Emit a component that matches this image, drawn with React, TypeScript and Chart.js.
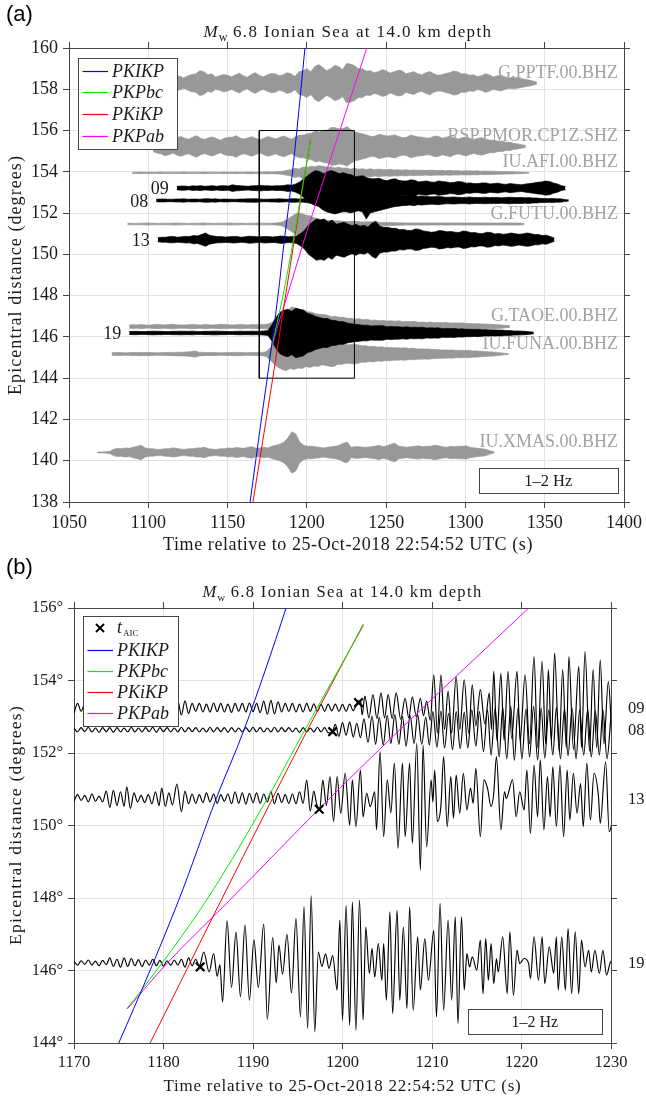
import React, { useEffect, useRef } from 'react';
import { Chart, registerables } from 'chart.js';

Chart.register(...registerables);

const SERIF = '"Liberation Serif", "Times New Roman", serif';
const SANS = '"Liberation Sans", Arial, sans-serif';
const AXIS = '#454545';
const GRID = '#e2e2e2';
const TXT = '#1a1a1a';
const GRAY = '#989898';
const LABEL_GRAY = '#a2a2a2';

const TITLE_REST = ' 6.8 Ionian Sea at 14.0 km depth';
const X_TITLE = 'Time relative to 25-Oct-2018 22:54:52 UTC (s)';
const Y_TITLE = 'Epicentral distance (degrees)';
const BAND_LABEL = '1\u20132 Hz';

// ---------------- Panel (a) axes ----------------
const A_XMIN = 1050, A_XMAX = 1400, A_XSTEP = 50;
const A_YMIN = 138, A_YMAX = 160, A_YSTEP = 2;
// ---------------- Panel (b) axes ----------------
const B_XMIN = 1170, B_XMAX = 1230, B_XSTEP = 10;
const B_YMIN = 144, B_YMAX = 156, B_YSTEP = 2;

// ---------------- Panel (a): trace envelopes (half-width, 0.01 deg), one value every 2.5 s ----------------
const ENV_STEP = 2.5;
const ENV_PPTF = [20,30,28,22,30,38,32,25,35,42,45,60,55,40,45,30,35,42,38,30,40,48,35,28,42,50,38,30,40,46,45,35,40,50,45,32,55,60,70,55,80,90,75,60,70,85,80,65,95,92,85,70,70,58,60,50,55,65,60,48,55,62,60,45,50,55,45,40,50,56,45,38,40,46,50,58,55,45,45,38,40,32,35,45,40,30,35,38,30,25,28,25,22,18,15,10,5];
const ENV_PMOR = [25,32,35,45,40,32,42,48,40,35,45,52,40,34,42,46,38,30,40,44,45,52,40,36,42,47,38,32,40,48,42,36,45,50,42,35,48,55,55,62,65,75,70,78,80,92,90,85,88,95,80,70,65,60,55,48,50,58,55,50,52,56,48,42,45,55,50,46,45,40,42,50,48,40,45,50,40,36,42,46,38,34,40,42,35,30,30,25,25,20,20,15,12,8,5];
const ENV_AFI = [3,3,4,3,3,3,3,4,3,3,3,3,3,4,3,3,3,3,4,3,3,3,3,4,3,3,4,3,3,4,4,3,4,4,5,4,5,6,8,12,15,22,18,28,25,32,30,35,32,28,30,24,28,22,24,18,22,18,20,16,20,15,18,16,15,17,14,15,13,15,12,14,12,13,11,13,12,11,12,10,12,10,11,9,10,10,9,10,8,9,8,8,7,7,6,6,5,4,4,3,2];
const ENV_09 = [8,10,10,8,11,10,12,9,10,12,9,11,12,10,16,13,12,10,9,11,12,14,11,12,10,12,11,13,16,14,20,30,45,60,75,85,80,70,80,85,78,70,75,68,65,55,58,60,50,45,45,48,40,36,42,45,38,35,35,40,38,30,32,35,30,28,35,32,30,26,28,32,30,24,25,22,22,25,25,20,22,24,20,18,22,20,18,16,20,22,25,28,30,34,32,25,20,12,8];
const ENV_08 = [6,7,7,6,6,7,7,8,6,7,7,6,8,9,7,8,6,7,7,6,6,7,7,8,8,9,7,6,6,7,7,8,7,6,8,9,7,8,10,14,20,30,45,55,60,65,60,55,55,60,55,50,55,90,60,55,50,45,40,35,30,28,25,24,22,25,20,22,20,18,18,20,18,16,16,17,16,15,15,17,15,14,15,16,14,15,15,13,14,16,15,14,15,13,14,12,12,10,10,9,10,8,8,5,3];
const ENV_FUTU = [4,4,3,4,4,5,4,4,3,4,4,4,5,4,4,3,4,4,4,5,4,4,3,4,4,4,5,4,4,4,3,4,4,5,4,4,4,5,6,10,20,32,45,55,50,42,40,30,25,22,18,17,15,16,14,12,12,13,12,10,10,11,10,9,8,8,7,7,6,6,5,5,5,5,5,5,5,5,5,5,5,5,5,5,5,5,5,5,5,5,5,5,5,5,5,5,5,5,5,5,2];
const ENV_13 = [10,12,12,15,15,12,14,16,15,20,18,25,32,22,18,15,15,13,14,16,15,12,14,17,16,14,14,16,15,13,15,18,16,14,15,18,30,45,70,85,100,95,100,85,95,75,80,85,75,68,75,65,70,62,80,90,65,60,60,55,55,48,50,45,45,52,50,42,40,36,38,45,42,38,40,36,35,42,40,34,35,30,30,36,35,28,30,26,28,32,30,26,28,32,30,25,25,20,22,15,8];
const ENV_TAOE = [8,9,8,10,8,7,9,10,9,8,10,11,9,8,8,9,10,9,8,10,9,8,9,11,10,9,8,9,10,9,8,10,9,9,10,12,20,35,50,70,80,95,90,80,80,72,70,62,60,58,55,48,50,45,45,40,40,36,38,33,35,30,32,28,30,27,28,26,28,24,25,24,25,21,22,20,22,19,20,19,20,17,18,17,18,15,15,14,14,12,12,11,10,9,8,6,4];
const ENV_19 = [7,8,8,7,7,8,9,8,8,7,7,8,8,9,8,8,9,7,7,8,8,9,9,8,8,7,7,8,9,8,8,9,8,9,10,12,40,75,100,110,115,105,120,115,110,95,90,80,75,70,70,62,60,55,55,48,45,42,40,38,38,34,35,35,35,30,32,30,30,28,30,27,28,27,28,24,25,24,25,21,22,21,22,19,20,18,18,17,18,16,16,15,15,14,14,12,12,10,10,9,8,6,4];
const ENV_FUNA = [6,7,7,6,6,7,7,8,7,8,7,6,6,7,7,8,8,9,9,10,12,15,9,8,7,8,7,6,6,7,7,8,8,7,6,7,7,8,8,12,30,50,65,75,80,70,75,68,70,60,65,58,60,52,55,60,60,50,50,45,45,48,45,40,40,36,38,34,35,32,32,30,30,29,30,27,28,25,25,24,25,22,22,20,20,19,20,17,18,17,18,15,15,13,12,11,10,8,6,4,2];
const ENV_XMAS = [2,2,3,5,15,20,18,22,20,25,30,35,22,18,18,15,15,18,18,22,20,16,15,18,18,22,22,25,18,16,15,18,18,22,20,24,22,20,25,28,20,22,25,22,30,35,40,50,70,100,90,50,35,30,30,28,25,22,25,28,30,35,45,50,25,28,28,25,25,28,30,35,28,32,40,45,30,28,25,28,30,32,28,30,30,35,32,28,25,30,28,30,30,32,25,22,20,18,15,8,3];

const A_TRACES = [
  { name: 'G.PPTF.00.BHZ', dist: 158.3, t0: 1105, env: ENV_PPTF, black: false },
  { name: 'RSP.PMOR.CP1Z.SHZ', dist: 155.23, t0: 1103, env: ENV_PMOR, black: false },
  { name: 'IU.AFI.00.BHZ', dist: 153.95, t0: 1090, env: ENV_AFI, black: false },
  { name: 'G.FUTU.00.BHZ', dist: 151.47, t0: 1087, env: ENV_FUTU, black: false },
  { name: 'G.TAOE.00.BHZ', dist: 146.5, t0: 1088, env: ENV_TAOE, black: false },
  { name: 'IU.FUNA.00.BHZ', dist: 145.17, t0: 1077, env: ENV_FUNA, black: false },
  { name: 'IU.XMAS.00.BHZ', dist: 140.4, t0: 1068, env: ENV_XMAS, black: false },
  { name: '09', dist: 153.21, t0: 1118, env: ENV_09, black: true },
  { name: '08', dist: 152.61, t0: 1105, env: ENV_08, black: true },
  { name: '13', dist: 150.71, t0: 1106, env: ENV_13, black: true },
  { name: '19', dist: 146.19, t0: 1088, env: ENV_19, black: true },
];

// ---------------- Travel-time curves (time s, distance deg) ----------------
const PKIKP_T = [1164.2, 1171.3, 1175.0, 1181.7, 1185.9, 1189.0, 1193.7, 1198.8];
const PKIKP_D = [138, 142, 144, 147.94, 150.75, 152.64, 156, 160];
const PKPBC_T = [1175.9, 1177.4, 1184.8, 1191.5, 1195.8, 1202.3];
const PKPBC_D = [144.95, 145.41, 147.94, 150.7, 152.64, 155.5];
const PKIKP2_T = [1166.0, 1178.5, 1185.9, 1191.9, 1196.1, 1202.3];
const PKIKP2_D = [138, 144, 147.67, 150.61, 152.64, 155.54];
const PKPAB_T = [1176.0, 1180.4, 1187.4, 1197.4, 1206.4, 1220.8, 1237.8];
const PKPAB_D = [144.95, 146.2, 147.94, 150.46, 152.64, 156, 160];
const PHASES = [
  { name: 'PKIKP', t: PKIKP_T, d: PKIKP_D, color: '#0000ff' },
  { name: 'PKPbc', t: PKPBC_T, d: PKPBC_D, color: '#00ee00' },
  { name: 'PKiKP', t: PKIKP2_T, d: PKIKP2_D, color: '#ff0000' },
  { name: 'PKPab', t: PKPAB_T, d: PKPAB_D, color: '#ff00ff' },
];

// zoom window of panel (b) drawn in panel (a)
const BOX_T = [1170, 1230, 1230, 1170, 1170];
const BOX_D = [144, 144, 156, 156, 144];

// ---------------- Panel (b): waveforms [time s, amplitude 0.01 deg] ----------------
const B09: number[][] = [[1170,-15],[1170.4,12],[1170.8,-10],[1171.2,12],[1171.6,-12],[1172,10],[1172.4,-14],[1172.8,12],[1173.2,-10],[1173.6,14],[1174,-12],[1174.4,10],[1174.8,-12],[1175.2,14],[1175.6,-13],[1176,11],[1176.4,-12],[1176.8,13],[1177.2,-10],[1177.6,12],[1178,-14],[1178.4,12],[1178.8,-11],[1179.2,13],[1179.6,-12],[1180,10],[1180.4,-12],[1180.8,14],[1181.2,-15],[1181.6,18],[1182,-20],[1182.4,19],[1182.8,-16],[1183.2,12],[1183.6,-10],[1184,12],[1184.4,-12],[1184.8,10],[1185.2,-12],[1185.6,13],[1186,-11],[1186.4,12],[1186.8,-12],[1187.2,10],[1187.6,-13],[1188,12],[1188.4,-10],[1188.8,12],[1189.2,-12],[1189.6,13],[1190,-11],[1190.4,12],[1190.8,-14],[1191.2,18],[1191.6,-18],[1192,20],[1192.4,-17],[1192.8,16],[1193.2,-12],[1193.6,12],[1194,-10],[1194.4,12],[1194.8,-12],[1195.2,10],[1195.6,-12],[1196,12],[1196.4,-10],[1196.8,11],[1197.2,-10],[1197.6,9],[1198,-10],[1198.4,10],[1198.8,-9],[1199.2,10],[1199.6,-10],[1200,9],[1200.4,-10],[1200.8,10],[1201.2,-8],[1201.6,12],[1202.0,20],[1202.2,-20],[1202.5,32],[1202.95,-28],[1203.4,36],[1203.85,-30],[1204.3,41],[1204.7,-28],[1205.1,36],[1205.55,-30],[1206.0,41],[1206.5,-32],[1207.0,26],[1207.4,-28],[1207.8,30],[1208.25,-25],[1208.7,26],[1209.05,-22],[1209.4,18],[1209.8,-35],[1210.2,91],[1210.6,-70],[1211.0,91],[1211.4,-60],[1211.8,45],[1212.2,-70],[1212.7,86],[1213.1,-60],[1213.6,77],[1214.1,-70],[1214.5,63],[1214.9,-50],[1215.4,50],[1215.9,-45],[1216.4,40],[1216.65,-60],[1216.9,100],[1217.25,-90],[1217.7,95],[1218.05,-90],[1218.5,100],[1218.9,-85],[1219.5,100],[1219.85,-90],[1220.4,91],[1220.9,-100],[1221.4,141],[1221.8,-110],[1222.3,128],[1222.7,-100],[1223.0,105],[1223.35,-90],[1223.7,151],[1224.2,-120],[1224.6,105],[1225.0,-110],[1225.3,141],[1225.8,-115],[1226.4,114],[1226.7,-110],[1227.1,155],[1227.6,-120],[1228.0,105],[1228.4,-110],[1228.8,132],[1229.2,-100],[1229.7,72],[1230.1,-80]];

const B08: number[][] = [[1170,5],[1170.4,-6],[1170.8,6],[1171.2,-5],[1171.6,7],[1172,-6],[1172.4,5],[1172.8,-7],[1173.2,6],[1173.6,-5],[1174,6],[1174.4,-7],[1174.8,6],[1175.2,-6],[1175.6,5],[1176,-6],[1176.4,7],[1176.8,-6],[1177.2,5],[1177.6,-6],[1178,6],[1178.4,-5],[1178.8,7],[1179.2,-7],[1179.6,6],[1180,-5],[1180.4,6],[1180.8,-6],[1181.2,5],[1181.6,-6],[1182,7],[1182.4,-6],[1182.8,6],[1183.2,-5],[1183.6,6],[1184,-6],[1184.4,5],[1184.8,-6],[1185.2,7],[1185.6,-6],[1186,6],[1186.4,-5],[1186.8,6],[1187.2,-7],[1187.6,6],[1188,-6],[1188.4,5],[1188.8,-6],[1189.2,6],[1189.6,-5],[1190,7],[1190.4,-6],[1190.8,6],[1191.2,-6],[1191.6,5],[1192,-6],[1192.4,7],[1192.8,-6],[1193.2,6],[1193.6,-5],[1194,6],[1194.4,-6],[1194.8,5],[1195.2,-7],[1195.6,6],[1196,-6],[1196.4,5],[1196.8,-6],[1197.2,7],[1197.6,-6],[1198,6],[1198.4,-8],[1198.8,-9],[1199.2,15],[1199.6,-18],[1200,20],[1200.4,-15],[1200.8,22],[1201.2,-20],[1201.6,18],[1202,-22],[1202.4,30],[1202.85,-35],[1203.3,38],[1203.7,-40],[1204.1,35],[1204.55,-42],[1205,40],[1205.4,-38],[1205.85,42],[1206.3,-40],[1206.7,38],[1207.1,-45],[1207.55,40],[1208,-38],[1208.4,42],[1208.85,-40],[1209.3,35],[1209.7,-42],[1210.1,50],[1210.55,-48],[1211,52],[1211.4,-50],[1211.85,45],[1212.3,-55],[1212.7,50],[1213.15,-52],[1213.6,48],[1214,-50],[1214.45,55],[1214.9,-45],[1215.3,50],[1215.75,-60],[1216.2,55],[1216.6,-70],[1217.05,60],[1217.5,-75],[1217.9,62],[1218.35,-80],[1218.8,65],[1219.2,-84],[1219.6,60],[1220.05,-80],[1220.5,58],[1220.9,-75],[1221.35,65],[1221.8,-84],[1222.2,60],[1222.6,-78],[1223.05,55],[1223.5,-70],[1223.9,62],[1224.35,-80],[1224.8,58],[1225.2,-72],[1225.65,60],[1226.1,-80],[1226.5,55],[1226.95,-70],[1227.4,58],[1227.8,-75],[1228.25,52],[1228.7,-70],[1229.1,55],[1229.55,-80],[1230,40]];

const B13: number[][] = [[1170,-8],[1170.4,10],[1170.8,-6],[1171.2,8],[1171.6,-10],[1172,12],[1172.4,-8],[1172.8,6],[1173.2,-10],[1173.6,20],[1174,-25],[1174.4,22],[1174.8,-20],[1175.2,18],[1175.6,-22],[1175.9,32],[1176.3,-28],[1176.7,15],[1177.1,-10],[1177.5,8],[1177.9,-12],[1178.3,10],[1178.7,-15],[1179.1,18],[1179.5,-20],[1179.8,28],[1180.2,-22],[1180.6,15],[1181,-18],[1181.5,39],[1182,-37],[1182.4,20],[1182.8,-15],[1183.2,12],[1183.6,-14],[1184,10],[1184.4,-12],[1184.8,15],[1185.2,-10],[1185.6,12],[1186,-14],[1186.4,10],[1186.8,-8],[1187.2,12],[1187.6,-15],[1188,18],[1188.4,-14],[1188.8,15],[1189.2,-16],[1189.6,14],[1190,-12],[1190.4,15],[1190.8,-14],[1191.2,12],[1191.6,-10],[1192,18],[1192.4,-15],[1192.8,14],[1193.2,-12],[1193.6,10],[1194,-14],[1194.4,12],[1194.8,-15],[1195.2,18],[1195.6,-14],[1196,50],[1196.4,-35],[1196.8,20],[1197.1,-15],[1197.45,-30],[1197.8,50],[1198.2,-20],[1198.6,60],[1199.0,-64],[1199.4,60],[1199.8,-41],[1200.3,69],[1200.8,-74],[1201.1,50],[1201.5,-78],[1202.0,78],[1202.3,-51],[1202.7,14],[1203.1,-23],[1203.6,18],[1203.8,-87],[1204.2,129],[1204.6,-106],[1205.0,51],[1205.4,-40],[1205.8,97],[1206.2,-138],[1206.7,97],[1207.0,-106],[1207.5,97],[1207.8,-124],[1208.3,152],[1208.7,-198],[1209.0,147],[1209.4,-134],[1209.9,51],[1210.1,-10],[1210.3,78],[1210.6,-64],[1211.0,-20],[1211.3,115],[1211.7,-78],[1212.1,60],[1212.4,-55],[1212.7,64],[1213.1,-41],[1213.5,69],[1213.9,-32],[1214.3,28],[1214.6,-14],[1214.9,83],[1215.4,-106],[1215.8,51],[1216.2,28],[1216.6,-23],[1216.9,14],[1217.2,115],[1217.7,-87],[1218.1,18],[1218.3,0],[1219.0,51],[1219.4,-51],[1219.8,18],[1220.3,-32],[1220.6,78],[1221.0,-97],[1221.4,92],[1221.8,-51],[1222.1,106],[1222.5,-87],[1222.9,60],[1223.2,-51],[1223.5,87],[1223.9,-78],[1224.3,92],[1224.7,-106],[1225.1,78],[1225.4,-60],[1225.8,69],[1226.2,-41],[1226.6,41],[1226.9,-78],[1227.3,97],[1227.7,-60],[1228.1,69],[1228.6,5],[1228.8,-69],[1229.4,101],[1229.8,-92],[1230.2,-60]];

const B19: number[][] = [[1170,4],[1170.4,-6],[1170.8,6],[1171.2,-4],[1171.6,8],[1172,-6],[1172.4,5],[1172.8,-8],[1173.2,7],[1173.6,-5],[1174,14],[1174.4,-10],[1174.8,10],[1175.2,-12],[1175.6,13],[1176,-10],[1176.4,12],[1176.8,-8],[1177.2,9],[1177.6,-10],[1178,8],[1178.4,-6],[1178.8,10],[1179.2,-8],[1179.6,7],[1180,-9],[1180.4,6],[1180.8,-7],[1181.2,8],[1181.6,-6],[1182,10],[1182.4,-12],[1182.8,14],[1183.2,-8],[1183.6,10],[1184,-10],[1184.5,30],[1185.1,-25],[1185.6,26],[1186.0,-37],[1186.3,-5],[1186.6,-108],[1187.1,116],[1187.6,-68],[1188.1,85],[1188.6,-94],[1189.1,104],[1189.6,-103],[1190.1,64],[1190.6,-68],[1191.2,107],[1191.6,-156],[1192.2,70],[1192.6,-55],[1192.9,49],[1193.3,-31],[1193.8,79],[1194.3,-83],[1194.8,123],[1195.3,-149],[1195.7,155],[1196.1,-181],[1196.5,185],[1196.9,-190],[1197.3,30],[1197.7,-10],[1198.1,25],[1198.5,-15],[1198.9,20],[1199.4,-75],[1199.7,118],[1200.0,-158],[1200.4,159],[1200.8,-172],[1201.1,168],[1201.5,-186],[1201.9,173],[1202.3,-158],[1202.6,99],[1203.0,-29],[1203.3,40],[1203.6,-39],[1204.0,53],[1204.4,-48],[1204.6,53],[1204.9,-103],[1205.3,141],[1205.6,-140],[1206.1,145],[1206.4,-103],[1206.8,99],[1207.2,-126],[1207.5,155],[1207.9,-131],[1208.4,72],[1208.7,-75],[1209.2,67],[1209.6,-48],[1210.2,90],[1210.5,-149],[1210.9,164],[1211.3,-131],[1211.8,118],[1212.2,-103],[1212.6,127],[1212.9,-167],[1213.3,127],[1213.6,-75],[1213.9,26],[1214.2,-11],[1214.5,17],[1215.0,-20],[1215.4,63],[1215.7,-85],[1216.0,67],[1216.3,-48],[1216.6,53],[1216.9,-57],[1217.2,12],[1217.4,-25],[1217.9,72],[1218.4,-85],[1218.7,86],[1219.1,-89],[1219.5,35],[1219.8,-2],[1220.3,12],[1220.8,-2],[1221.0,-43],[1221.4,72],[1221.9,-48],[1222.3,72],[1222.6,-57],[1223.1,44],[1223.6,-29],[1223.9,72],[1224.1,-75],[1224.5,72],[1224.9,-75],[1225.2,95],[1225.6,-85],[1226.0,86],[1226.4,-85],[1226.7,63],[1227.1,-11],[1227.5,35],[1227.8,-25],[1228.2,35],[1228.7,-29],[1229.1,35],[1229.5,-34],[1229.9,0],[1230.2,10]];

const B_TRACES = [
  { name: '09', dist: 153.25, wave: B09 },
  { name: '08', dist: 152.64, wave: B08 },
  { name: '13', dist: 150.75, wave: B13 },
  { name: '19', dist: 146.21, wave: B19 },
];

// AIC picks
const AIC_T = [1201.8, 1198.9, 1197.4, 1184.1];
const AIC_D = [153.39, 152.59, 150.45, 146.1];

// ---------------- helpers ----------------
function setLS(ctx: any, v: number) {
  if ('letterSpacing' in ctx) ctx.letterSpacing = v + 'px';
}

function fitText(ctx: any, text: string, x: number, y: number, font: string, target: number | null, align: string, color: string) {
  ctx.save();
  ctx.font = font;
  ctx.fillStyle = color;
  ctx.textBaseline = 'alphabetic';
  setLS(ctx, 0);
  let w = ctx.measureText(text).width;
  if (target) {
    setLS(ctx, (target - w) / text.length);
    w = ctx.measureText(text).width;
  }
  ctx.textAlign = 'left';
  let x0 = x;
  if (align === 'center') x0 = x - w / 2;
  else if (align === 'right') x0 = x - w;
  ctx.fillText(text, x0, y);
  ctx.restore();
}

function drawTitle(ctx: any, cx: number, base: number, size: number, target: number) {
  ctx.save();
  ctx.fillStyle = TXT;
  ctx.textAlign = 'left';
  ctx.textBaseline = 'alphabetic';
  setLS(ctx, 0);
  const f1 = `italic ${size}px ${SERIF}`;
  const f2 = `${Math.round(size * 0.68)}px ${SERIF}`;
  const f3 = `${size}px ${SERIF}`;
  ctx.font = f1; const wM = ctx.measureText('M').width;
  ctx.font = f2; const wW = ctx.measureText('w').width;
  ctx.font = f3; const wR0 = ctx.measureText(TITLE_REST).width;
  const ls = (target - wM - wW - 1 - wR0) / TITLE_REST.length;
  setLS(ctx, ls);
  const wR = ctx.measureText(TITLE_REST).width;
  setLS(ctx, 0);
  let x = cx - (wM + 1 + wW + wR) / 2;
  ctx.font = f1; ctx.fillText('M', x, base); x += wM + 1;
  ctx.font = f2; ctx.fillText('w', x, base + size * 0.22); x += wW;
  ctx.font = f3; setLS(ctx, ls);
  ctx.fillText(TITLE_REST, x, base);
  ctx.restore();
}

function drawYTitle(ctx: any, x: number, cy: number, size: number, target: number) {
  ctx.save();
  ctx.translate(x, cy);
  ctx.rotate(-Math.PI / 2);
  fitText(ctx, Y_TITLE, 0, 0, `${size}px ${SERIF}`, target, 'center', TXT);
  ctx.restore();
}

function drawBandBox(ctx: any, x1: number, y1: number, x2: number, y2: number, size: number) {
  ctx.save();
  ctx.fillStyle = '#fff';
  ctx.fillRect(x1, y1, x2 - x1, y2 - y1);
  ctx.strokeStyle = AXIS;
  ctx.lineWidth = 1;
  ctx.strokeRect(Math.round(x1) + 0.5, Math.round(y1) + 0.5, Math.round(x2 - x1), Math.round(y2 - y1));
  ctx.font = `${size}px ${SERIF}`;
  ctx.fillStyle = TXT;
  ctx.textAlign = 'center';
  ctx.textBaseline = 'middle';
  ctx.fillText(BAND_LABEL, (x1 + x2) / 2, (y1 + y2) / 2 + 1);
  ctx.restore();
}

function drawLegend(ctx: any, x1: number, y1: number, x2: number, y2: number, rows: number[], withAic: boolean) {
  ctx.save();
  ctx.fillStyle = '#fff';
  ctx.fillRect(x1, y1, x2 - x1, y2 - y1);
  ctx.strokeStyle = AXIS;
  ctx.lineWidth = 1;
  ctx.strokeRect(Math.round(x1) + 0.5, Math.round(y1) + 0.5, Math.round(x2 - x1), Math.round(y2 - y1));
  ctx.restore();
  let r = 0;
  const lx1 = x1 + 4.5, lx2 = x1 + 30, tx = x1 + 34;
  if (withAic) {
    const y = rows[r++];
    const cx = x1 + 17;
    ctx.save();
    ctx.strokeStyle = '#000';
    ctx.lineWidth = 2;
    ctx.beginPath();
    ctx.moveTo(cx - 4, y - 4); ctx.lineTo(cx + 4, y + 4);
    ctx.moveTo(cx - 4, y + 4); ctx.lineTo(cx + 4, y - 4);
    ctx.stroke();
    ctx.fillStyle = TXT;
    ctx.textBaseline = 'alphabetic';
    ctx.textAlign = 'left';
    ctx.font = `italic 18px ${SERIF}`;
    ctx.fillText('t', tx, y + 5);
    const wt = ctx.measureText('t').width;
    ctx.font = `9px ${SERIF}`;
    ctx.fillText('AIC', tx + wt + 1, y + 8);
    ctx.restore();
  }
  PHASES.forEach((p) => {
    const y = rows[r++];
    ctx.save();
    ctx.lineWidth = 1.2;
    ctx.strokeStyle = p.color;
    ctx.beginPath();
    ctx.moveTo(lx1, Math.round(y) + 0.5);
    ctx.lineTo(lx2, Math.round(y) + 0.5);
    ctx.stroke();
    ctx.restore();
    fitText(ctx, p.name, tx, y + 6, `italic 18px ${SERIF}`, null, 'left', TXT);
  });
}

function scalesFor(xmin: number, xmax: number, xstep: number, ymin: number, ymax: number, ystep: number, fs: number, yfmt: (v: any) => string, box: { l: number; r: number; t: number; b: number }) {
  const grid = { color: GRID, lineWidth: 1, tickLength: 6, tickColor: AXIS, tickWidth: 1, drawTicks: true };
  const border = { color: AXIS, width: 1 };
  const font = { family: SERIF, size: fs };
  return {
    x: {
      type: 'linear', position: 'bottom', min: xmin, max: xmax,
      ticks: { stepSize: xstep, color: TXT, font, padding: 4, maxRotation: 0, autoSkip: false, callback: (v: any) => String(v) },
      grid, border,
      afterFit: (s: any) => { s.height = box.b; },
    },
    x2: {
      type: 'linear', position: 'top', min: xmin, max: xmax,
      ticks: { stepSize: xstep, display: false },
      grid: { ...grid, drawOnChartArea: false }, border,
      afterFit: (s: any) => { s.height = box.t; },
    },
    y: {
      type: 'linear', position: 'left', min: ymin, max: ymax,
      ticks: { stepSize: ystep, color: TXT, font, padding: 5, callback: yfmt },
      grid, border,
      afterFit: (s: any) => { s.width = box.l; },
    },
    y2: {
      type: 'linear', position: 'right', min: ymin, max: ymax,
      ticks: { stepSize: ystep, display: false },
      grid: { ...grid, drawOnChartArea: false }, border,
      afterFit: (s: any) => { s.width = box.r; },
    },
  };
}

const baseOptions = {
  responsive: false,
  maintainAspectRatio: false,
  animation: false,
  devicePixelRatio: 1,
  events: [],
  layout: { padding: 0 },
  elements: { point: { radius: 0 }, line: { borderJoinStyle: 'round', borderCapStyle: 'round' } },
};

function phaseDatasets(order: number) {
  return PHASES.map((p) => ({
    data: p.t.map((t, i) => ({ x: t, y: p.d[i] })),
    borderColor: p.color,
    borderWidth: 1,
    pointRadius: 0,
    fill: false,
    cubicInterpolationMode: 'monotone',
    order,
  }));
}

function configA(): any {
  const datasets: any[] = [];
  A_TRACES.forEach((tr) => {
    const color = tr.black ? '#000000' : GRAY;
    const order = tr.black ? 2 : 3;
    const up = tr.env.map((a, i) => ({ x: tr.t0 + i * ENV_STEP, y: tr.dist + a / 100 }));
    const lo = tr.env.map((a, i) => ({ x: tr.t0 + i * ENV_STEP, y: tr.dist - a / 100 }));
    datasets.push({ data: up, borderColor: color, borderWidth: 0.7, pointRadius: 0, fill: false, order });
    datasets.push({ data: lo, borderColor: color, borderWidth: 0.7, pointRadius: 0, fill: '-1', backgroundColor: color, order });
  });
  datasets.push({
    data: BOX_T.map((t, i) => ({ x: t, y: BOX_D[i] })),
    borderColor: '#000', borderWidth: 1, pointRadius: 0, fill: false, order: 1,
  });
  phaseDatasets(0).forEach((d) => datasets.push(d));

  const overlay = {
    id: 'overlayA',
    afterDatasetsDraw(chart: any) {
      const ctx = chart.ctx;
      const ys = chart.scales.y, xs = chart.scales.x;
      A_TRACES.forEach((tr) => {
        const py = ys.getPixelForValue(tr.dist);
        if (!tr.black) {
          fitText(ctx, tr.name, 618, py - 11.5 + 6, `18px ${SERIF}`, null, 'right', LABEL_GRAY);
        } else {
          const px = xs.getPixelForValue(tr.t0);
          fitText(ctx, tr.name, px - 8, py + 6, `18px ${SERIF}`, null, 'right', TXT);
        }
      });
      drawLegend(ctx, 78, 58, 177, 149, [70.5, 92, 113.5, 135.5], false);
      drawBandBox(ctx, 478.7, 467.7, 617.7, 493, 16.5);
    },
    afterDraw(chart: any) {
      const ctx = chart.ctx;
      drawTitle(ctx, 348, 37, 17, 289);
      fitText(ctx, X_TITLE, 348, 550, `18px ${SERIF}`, 370, 'center', TXT);
      drawYTitle(ctx, 21, 275, 18, 240);
      ctx.save();
      ctx.font = `22px ${SANS}`;
      ctx.fillStyle = '#000';
      ctx.textAlign = 'left';
      ctx.textBaseline = 'alphabetic';
      ctx.fillText('(a)', 6, 21);
      ctx.restore();
    },
  };

  return {
    type: 'line',
    data: { datasets },
    options: {
      ...baseOptions,
      plugins: { legend: { display: false }, tooltip: { enabled: false }, title: { display: false } },
      scales: scalesFor(A_XMIN, A_XMAX, A_XSTEP, A_YMIN, A_YMAX, A_YSTEP, 18, (v: any) => String(v), { l: 69, r: 19, t: 48, b: 54 }),
    },
    plugins: [overlay],
  };
}

function configB(): any {
  const datasets: any[] = [];
  datasets.push({
    data: AIC_T.map((t, i) => ({ x: t, y: AIC_D[i] })),
    showLine: false,
    pointStyle: 'crossRot',
    pointRadius: 6,
    borderColor: '#000',
    borderWidth: 2.2,
    order: 0,
  });
  phaseDatasets(1).forEach((d) => datasets.push(d));
  B_TRACES.forEach((tr) => {
    datasets.push({
      data: tr.wave.map((p) => ({ x: p[0], y: tr.dist + p[1] / 100 })),
      borderColor: '#000',
      borderWidth: 1.15,
      pointRadius: 0,
      fill: false,
      cubicInterpolationMode: 'monotone',
      order: 2,
    });
  });

  const overlay = {
    id: 'overlayB',
    afterDatasetsDraw(chart: any) {
      const ctx = chart.ctx;
      const ys = chart.scales.y;
      B_TRACES.forEach((tr) => {
        const py = ys.getPixelForValue(tr.dist);
        fitText(ctx, tr.name, chart.chartArea.right + 17, py + 5.5, `16.5px ${SERIF}`, null, 'left', TXT);
      });
      drawLegend(ctx, 83, 60, 178, 170, [72, 94, 115, 136, 157], true);
      drawBandBox(ctx, 468, 453, 601.7, 478, 16);
    },
    afterDraw(chart: any) {
      const ctx = chart.ctx;
      drawTitle(ctx, 342.5, 41, 16.5, 280);
      fitText(ctx, X_TITLE, 342.5, 535, `17px ${SERIF}`, 358, 'center', TXT);
      drawYTitle(ctx, 21, 269, 17.5, 240);
      ctx.save();
      ctx.font = `22px ${SANS}`;
      ctx.fillStyle = '#000';
      ctx.textAlign = 'left';
      ctx.textBaseline = 'alphabetic';
      ctx.fillText('(b)', 6, 18);
      ctx.restore();
    },
  };

  return {
    type: 'line',
    data: { datasets },
    options: {
      ...baseOptions,
      plugins: { legend: { display: false }, tooltip: { enabled: false }, title: { display: false } },
      scales: scalesFor(B_XMIN, B_XMAX, B_XSTEP, B_YMIN, B_YMAX, B_YSTEP, 16.5, (v: any) => v + '\u00b0', { l: 74, r: 35, t: 52, b: 53 }),
    },
    plugins: [overlay],
  };
}

export default function App() {
  const refA = useRef<HTMLCanvasElement>(null);
  const refB = useRef<HTMLCanvasElement>(null);
  useEffect(() => {
    const a = new Chart(refA.current as HTMLCanvasElement, configA());
    const b = new Chart(refB.current as HTMLCanvasElement, configB());
    return () => { a.destroy(); b.destroy(); };
  }, []);
  return (
    <div style={{ position: 'absolute', left: 0, top: 0, width: 646, height: 1096, background: '#fff' }}>
      <canvas ref={refA} width={646} height={556} style={{ position: 'absolute', left: 0, top: 0, width: 646, height: 556 }} />
      <canvas ref={refB} width={646} height={540} style={{ position: 'absolute', left: 0, top: 556, width: 646, height: 540 }} />
    </div>
  );
}
